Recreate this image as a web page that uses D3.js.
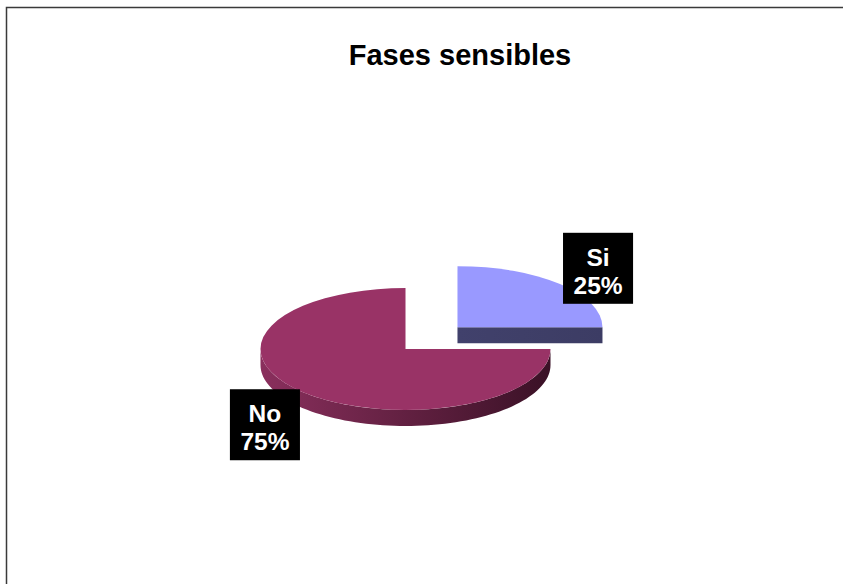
<!DOCTYPE html>
<html>
<head>
<meta charset="utf-8">
<script src="https://cdn.jsdelivr.net/npm/d3@7"></script>
<style>
  html, body { margin: 0; padding: 0; background: #fff; }
  svg { display: block; }
</style>
</head>
<body>
<svg id="chart" width="843" height="584"></svg>
<script>
// ---- data ----
const categories = ["Si", "No"];
const values = [25, 75];
const title = "Fases sensibles";

// ---- layout / style ----
const W = 843, H = 584;
const cx = 405.5, cy = 349;     // pie centre (unexploded)
const rx = 145, ry = 61;        // ellipse radii of the tilted pie
const depth = 16;               // thickness
const explodeDist = [73.5, 0];  // explosion (unprojected units)
const topColors = ["#9999FF", "#993366"];
const sideColors = [["#41416c", "#3c3c64"], ["#8a2f5d", "#3a1126"]];
const font = "'Liberation Sans', Arial, Helvetica, sans-serif";

const svg = d3.select("#chart");

// gradients for sides
const defs = svg.append("defs");
sideColors.forEach((c, i) => {
  const g = defs.append("linearGradient").attr("id", "side" + i)
    .attr("x1", "0%").attr("x2", "100%").attr("y1", "0%").attr("y2", "0%");
  g.append("stop").attr("offset", "0%").attr("stop-color", c[0]);
  g.append("stop").attr("offset", "45%").attr("stop-color", d3.interpolateRgb(c[0], c[1])(0.45));
  g.append("stop").attr("offset", "100%").attr("stop-color", c[1]);
});

// frame
svg.append("rect")
  .attr("x", 6.5).attr("y", 7.5).attr("width", 900).attr("height", 700)
  .attr("fill", "none").attr("stroke", "#3a3a3a").attr("stroke-width", 1.5);

// title
svg.append("text")
  .attr("x", 460).attr("y", 65)
  .attr("text-anchor", "middle")
  .attr("font-family", font).attr("font-weight", "bold").attr("font-size", 29)
  .attr("fill", "#000")
  .text(title);

const pie = d3.pie().sort(null).startAngle(0).endAngle(2 * Math.PI);
const arcs = pie(values);

const arcGen = d3.arc().innerRadius(0).outerRadius(rx);
const pt = (ox, oy, a, dz) => [ox + rx * Math.sin(a), oy - ry * Math.cos(a) + dz];
const line = d3.line();

// compute centres
arcs.forEach((d, i) => {
  const mid = (d.startAngle + d.endAngle) / 2;
  d.mid = mid;
  d.ox = cx + explodeDist[i] * Math.sin(mid);
  d.oy = cy - explodeDist[i] * Math.cos(mid) * (ry / rx);
});

// draw back slices first (smaller oy first)
const order = arcs.map((d, i) => i).sort((a, b) => arcs[a].oy - arcs[b].oy);

order.forEach(i => {
  const d = arcs[i];
  const g = svg.append("g");
  // radius faces
  const faces = [];
  if (-Math.sin(d.startAngle) > 1e-6) faces.push(d.startAngle);
  if (Math.sin(d.endAngle) > 1e-6) faces.push(d.endAngle);
  faces.forEach(a => {
    const p = pt(d.ox, d.oy, a, 0);
    const pts = [[d.ox, d.oy], p, [p[0], p[1] + depth], [d.ox, d.oy + depth]];
    g.append("path").attr("d", line(pts) + "Z")
      .attr("fill", `url(#side${i})`);
  });
  // outer curved side: visible where cos(a) < 0, i.e. a in (pi/2, 3pi/2)
  const lo = Math.max(d.startAngle, Math.PI / 2);
  const hi = Math.min(d.endAngle, 3 * Math.PI / 2);
  if (hi > lo) {
    const n = 80;
    const angs = d3.range(n + 1).map(k => lo + (hi - lo) * k / n);
    const topPts = angs.map(a => pt(d.ox, d.oy, a, 0));
    const botPts = angs.slice().reverse().map(a => pt(d.ox, d.oy, a, depth));
    g.append("path").attr("d", line(topPts.concat(botPts)) + "Z")
      .attr("fill", `url(#side${i})`);
  }
  // top face
  g.append("path")
    .attr("d", arcGen(d))
    .attr("transform", `translate(${d.ox},${d.oy}) scale(1,${ry / rx})`)
    .attr("fill", topColors[i]);
});

// labels
const kx = 1.371, ky = 1.56, shift = 8.45;
arcs.forEach((d, i) => {
  const lx = d.ox + Math.sin(d.mid) * rx * kx;
  const ly = d.oy - Math.cos(d.mid) * ry * ky + shift;
  const g = svg.append("g");
  const pct = Math.round(values[i] / d3.sum(values) * 100) + "%";
  const lines = [categories[i], pct];
  const rect = g.append("rect").attr("fill", "#000");
  const texts = lines.map((t, k) =>
    g.append("text")
      .attr("x", lx).attr("y", ly - 2.5 + k * 28)
      .attr("text-anchor", "middle")
      .attr("font-family", font).attr("font-weight", "bold").attr("font-size", 24.5)
      .attr("fill", "#fff")
      .text(t));
  const wmax = d3.max(texts, t => t.node().getComputedTextLength());
  const bw = wmax + 21, bh = 71;
  rect.attr("x", lx - bw / 2).attr("y", ly - bh / 2).attr("width", bw).attr("height", bh);
});
</script>
</body>
</html>
